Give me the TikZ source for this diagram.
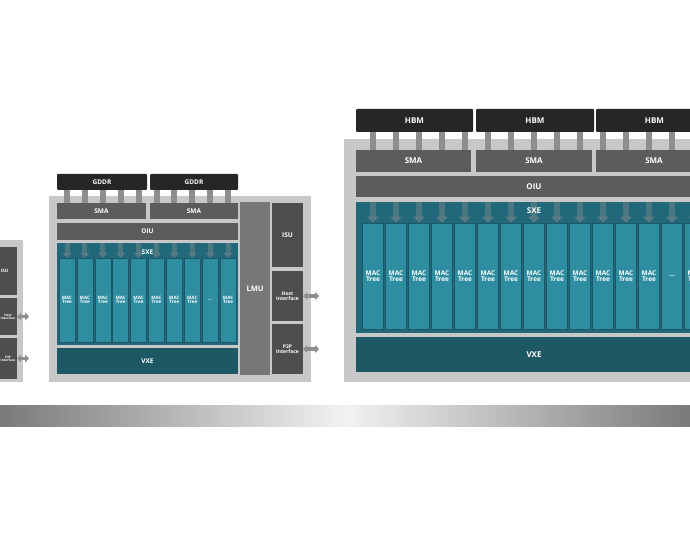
\documentclass[tikz,border=0pt]{standalone}
\usepackage{fontspec}
\setmainfont{Open Sans}
\usetikzlibrary{arrows.meta,positioning}

\definecolor{chipgray}{HTML}{C8C8C8}
\definecolor{memblack}{HTML}{262626}
\definecolor{smagray}{HTML}{5C5C5C}
\definecolor{lmugray}{HTML}{777777}
\definecolor{isugray}{HTML}{4E4E4E}
\definecolor{busgray}{HTML}{8E8E8E}
\definecolor{sxeteal}{HTML}{21697A}
\definecolor{macteal}{HTML}{2F8DA1}
\definecolor{macedge}{HTML}{1C5867}
\definecolor{vxeteal}{HTML}{1F5865}
\definecolor{barend}{HTML}{7A7A7A}
\definecolor{barmid}{HTML}{F2F2F2}

\newcommand{\fs}[1]{\bfseries\fontsize{#1}{#1}\selectfont}

\tikzset{
	box/.style={rectangle, inner sep=0pt, text=white, align=center},
	chip/.style={box, fill=chipgray},
	mem/.style={box, fill=memblack, rounded corners=1pt},
	unit/.style={box, fill=smagray},
	lmu/.style={box, fill=lmugray},
	ctrl/.style={box, fill=isugray},
	sxe/.style={box, fill=sxeteal},
	vxe/.style={box, fill=vxeteal},
	mac/.style={box, fill=macteal, draw=macedge, line width=.6pt},
	bus/.style={busgray, line width=6pt},
	down/.style={gray!90, opacity=.4, line width=5pt, -{Triangle[width=10pt,length=5pt]}},
	io/.style={busgray, line width=3.5pt, {Triangle[width=8pt,length=4pt]}-{Triangle[width=8pt,length=4pt]}}
}

\begin{document}
\begin{tikzpicture}[x=1pt, y=-1pt]
	\useasboundingbox (0,0) rectangle (690,545);
	\fill[white] (0,0) rectangle (690,545);
	\clip (0,0) rectangle (690,545);

	% left chip (cut off)
	\node[chip, minimum width=63pt, minimum height=142pt] (chipL) at (-8.5,311) {};
	\node[ctrl, minimum width=25pt, minimum height=48pt, font=\fs{4.5}] (isuL) at (4.5,271) {ISU};
	\node[ctrl, minimum width=25pt, minimum height=37pt, font=\fs{3.2}] (hostL) at (4.5,316.5) {};
	\node[box, font=\fs{3.2}] (hostLlbl) at (8,316.5) {Host\\Interface};
	\node[ctrl, minimum width=25pt, minimum height=41pt, font=\fs{3.2}] (p2pL) at (4.5,358.5) {};
	\node[box, font=\fs{3.2}] (p2pLlbl) at (8,358.5) {P2P\\Interface};
	\coordinate (hostLout) at (29,316.5);
	\coordinate (p2pLout) at (29,358.5);
	\draw[io] (hostL.east) -- (hostLout);
	\draw[io] (p2pL.east) -- (p2pLout);

	% middle chip
	\node[chip, minimum width=262pt, minimum height=186pt] (chipM) at (180,289) {};
	\node[mem, minimum width=90pt, minimum height=16pt, font=\fs{6.5}] (gddrMA) at (102,182) {GDDR};
	\node[mem, minimum width=88pt, minimum height=16pt, font=\fs{6.5}] (gddrMB) at (194,182) {GDDR};
	\node[unit, minimum width=89pt, minimum height=16pt, font=\fs{6.5}] (smaMA) at (101.5,211) {SMA};
	\node[unit, minimum width=88pt, minimum height=16pt, font=\fs{6.5}] (smaMB) at (194,211) {SMA};
	\node[unit, minimum width=181pt, minimum height=17pt, font=\fs{6.5}] (oiuM) at (147.5,231.5) {OIU};
	\node[sxe, minimum width=181pt, minimum height=102pt] (sxeM) at (147.5,294) {};
	\foreach \i in {1,...,10} {
		\pgfmathsetmacro\cx{67+17.9*(\i-1)}
		\ifnum\i=9
			\node[mac, minimum width=16pt, minimum height=84pt, font=\fs{5}] (macM\i) at (\cx,300) {...};
		\else
			\node[mac, minimum width=16pt, minimum height=84pt, font=\fs{4.6}] (macM\i) at (\cx,300) {MAC\\Tree};
		\fi
	}
	\node[vxe, minimum width=181pt, minimum height=26pt, font=\fs{6.5}] (vxeM) at (147.5,361) {VXE};
	\node[lmu, minimum width=30pt, minimum height=173pt, font=\fs{7.5}] (lmuM) at (255,288.5) {LMU};
	\node[ctrl, minimum width=31pt, minimum height=64pt, font=\fs{6.5}] (isuM) at (287.5,235) {ISU};
	\node[ctrl, minimum width=31pt, minimum height=50pt, font=\fs{5}] (hostM) at (287.5,296) {Host\\Interface};
	\node[ctrl, minimum width=31pt, minimum height=50pt, font=\fs{5}] (p2pM) at (287.5,349) {P2P\\Interface};
	\coordinate (hostMout) at (319,296);
	\coordinate (p2pMout) at (319,349);

	\foreach \i in {1,...,5}
		\draw[bus] (gddrMA.south -| macM\i) -- (smaMA.north -| macM\i);
	\foreach \i in {6,...,10}
		\draw[bus] (gddrMB.south -| macM\i) -- (smaMB.north -| macM\i);
	\foreach \i in {1,...,10}
		\draw[down] (sxeM.north -| macM\i) -- (macM\i.north);
	\node[box, font=\fs{6.5}, below=7pt] (sxeMlbl) at (sxeM.north) {SXE};
	\draw[io] (hostM.east) -- (hostMout);
	\draw[io] (p2pM.east) -- (p2pMout);

	% right chip
	\node[chip, minimum width=381pt, minimum height=243pt] (chipR) at (534.5,260.5) {};
	\node[mem, minimum width=117pt, minimum height=23pt, font=\fs{8}] (hbmRA) at (414.5,120.5) {HBM};
	\node[mem, minimum width=118pt, minimum height=23pt, font=\fs{8}] (hbmRB) at (535,120.5) {HBM};
	\node[mem, minimum width=117pt, minimum height=23pt, font=\fs{8}] (hbmRC) at (654.5,120.5) {HBM};
	\node[unit, minimum width=115pt, minimum height=22pt, font=\fs{8}] (smaRA) at (413.5,161) {SMA};
	\node[unit, minimum width=116pt, minimum height=22pt, font=\fs{8}] (smaRB) at (534,161) {SMA};
	\node[unit, minimum width=116pt, minimum height=22pt, font=\fs{8}] (smaRC) at (654,161) {SMA};
	\node[unit, minimum width=356pt, minimum height=21pt, font=\fs{8}] (oiuR) at (534,186.5) {OIU};
	\node[sxe, minimum width=356pt, minimum height=131pt] (sxeR) at (534,267.5) {};
	\foreach \i in {1,...,15} {
		\pgfmathsetmacro\cx{373+23*(\i-1)}
		\ifnum\i=14
			\node[mac, minimum width=20.5pt, minimum height=106pt, font=\fs{7}] (macR\i) at (\cx,276) {...};
		\else
			\node[mac, minimum width=20.5pt, minimum height=106pt, font=\fs{6.5}] (macR\i) at (\cx,276) {MAC\\Tree};
		\fi
	}
	\node[vxe, minimum width=356pt, minimum height=35pt, font=\fs{8}] (vxeR) at (534,354.5) {VXE};

	\foreach \i in {1,...,5}
		\draw[bus] (hbmRA.south -| macR\i) -- (smaRA.north -| macR\i);
	\foreach \i in {6,...,10}
		\draw[bus] (hbmRB.south -| macR\i) -- (smaRB.north -| macR\i);
	\foreach \i in {11,...,15}
		\draw[bus] (hbmRC.south -| macR\i) -- (smaRC.north -| macR\i);
	\foreach \i in {1,...,15}
		\draw[down, line width=6pt, -{Triangle[width=12pt,length=6pt]}] (sxeR.north -| macR\i) -- (macR\i.north);
	\node[box, font=\fs{8}, below=6pt] (sxeRlbl) at (sxeR.north) {SXE};

	% scale bar
	\shade[left color=barend, right color=barend, middle color=barmid] (0,405) rectangle (690,426);
\end{tikzpicture}
\end{document}
